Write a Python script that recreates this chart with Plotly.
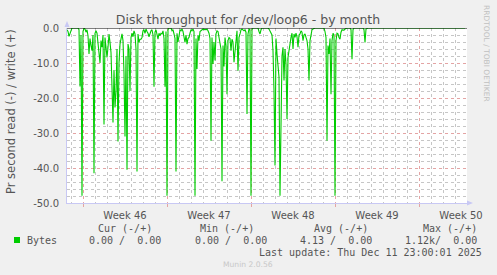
import pandas as pd
import plotly.graph_objects as go

# ---- data (read bytes per second, negative side; 2-hour samples) ----
start_time = "2025-11-08 16:00"
step = "2h"
read_bytes = [
    -0.5, -1.0, -2.4, -1.5, -0.3, 0, 0, 0, 0, 0, 0, 0,
    -0.5, -16.7, -2, -47.9, -1, 0, -0.3, -1.2, -0.5, -2.2, -7.4, -3,
    -5, -6.5, -2, -41.5, -1.5, -0.8, -1.5, -4.6, -6, -10, -3.6, -5.5,
    -2, -27.6, -2.7, -5, -8.4, -5.5, -1.7, -4.1, -7, -17, -27, -12,
    -22.7, -18, -6, -32.4, -10, -4.6, -3, -1.7, -3.6, -13, -31, -8,
    -40.5, -4.6, -6, -18, -2.7, -1.5, -2.5, -0.8, -1.7, -6, -41, -1.7,
    -4.1, -3.2, -3.2, -2.7, -0.8, -0.5, -1.5, -0.3, -1, -1.5, -2.5, -1.2,
    -0.8, -0.5, -2, -16.8, -1.2, -0.5, -1.5, -3.2, -1.5, -2.2, -1.5, -1.7,
    -0.8, -3, -16.8, -1, -47.9, -0.5, 0, 0, 0, -0.8, -0.5, -1.7,
    -3, -41, -1.5, -4, -1.2, -0.5, -0.8, -0.3, -1, -2.5, -4.1, -2,
    -4.6, -3, -2.7, -1.5, -0.5, -0.8, -0.3, -1, -47.9, -3, -11.7, -2,
    -3.6, -1, -0.8, -0.5, -0.3, -0.5, -0.3, -0.5, -0.3, -0.8, -1.5, -3,
    -32.2, -2.7, -10.3, -4, -9.3, -1.7, -0.8, -1, -2.7, -4, -6, -43.8,
    -5, -11, -2.7, -5, -18.9, -3.6, -2.7, -3, -6.5, -3.2, -4, -9.8,
    -6.5, -2, -0.8, -12.2, -2.7, -1.7, -0.5, -0.3, -0.5, -0.8, -0.5, -1.2,
    -24.6, -1.7, -0.3, -0.5, -47.9, -0.5, 0, 0, 0, 0, 0, 0,
    -1, -1.7, -0.5, 0, 0, 0, 0, 0, 0, 0, -0.3, -0.8,
    -1.2, -2, -6.5, -17.9, -39.3, -3, -7.4, -10.3, -14, -47.9, -16, -8,
    -5.5, -15, -6, -10.3, -26, -8.4, -6.5, -3.6, -2.7, -1.5, -6, -1.7,
    -2.7, -1.5, -2.5, -5.5, -2, -1.7, -0.8, -1.2, -3.6, -2, -1.7, -2.7,
    -3.6, -6, -15, -3.6, -1.5, -0.5, -0.3, 0, 0, 0, 0, 0,
    0, 0, 0, 0, 0, 0, -1, -2.7, -32.2, -5, -7.4, -3,
    -18.9, -3.6, -1.5, -2, -47.9, -3.6, -1.5, -1.7, -2.7, -3.2, -1.2, -0.5,
    -0.6, -0.6, -0.3, 0, 0, 0, 0, 0, -0.5, -8.9, -0.5, 0,
    0, 0, 0, 0, 0, 0, 0, 0, 0, -0.5, -4.1, -0.3,
    0, 0, 0, 0, 0, 0, 0, 0, 0, 0, 0, 0,
    0, 0, 0, 0, 0, 0, 0, 0, 0, 0, 0, 0,
    0, 0, 0, 0, 0, 0, 0, 0, 0, 0, 0, 0,
    0, 0, 0, 0, 0, 0, 0, 0, 0, 0, 0, 0,
    0, 0, 0, 0, 0, 0, 0, 0, 0, 0, 0, 0,
    0, 0, 0, 0, 0, 0, 0, 0, 0, 0, 0, 0,
    0, 0, 0, 0, 0, 0, 0, 0, 0, 0, 0, 0,
    0, 0, 0, 0, 0, 0, 0, 0, 0, 0, 0, 0,
    0, 0, 0,
]
y_ticks = [-50, -40, -30, -20, -10, 0]
y_tick_labels = ["-50.0", "-40.0", "-30.0", "-20.0", "-10.0", "0.0"]
legend_headers = ["Cur (-/+)", "Min (-/+)", "Avg (-/+)", "Max (-/+)"]
legend_values = ["0.00 /  0.00", "0.00 /  0.00", "4.13 /  0.00", "1.12k/  0.00"]
series_name = "Bytes"
title = "Disk throughput for /dev/loop6 - by month"
y_title = "Pr second read (-) / write (+)"
last_update = "Last update: Thu Dec 11 23:00:01 2025"
footer = "Munin 2.0.56"
side_text = "RRDTOOL / TOBI OETIKER"

times = pd.date_range(start_time, periods=len(read_bytes), freq=step)

# ---- layout geometry (pixels) ----
W, H = 497, 275
L, R, T, B = 67, 467, 28, 203
PW, PH = R - L, B - T


def px(x):
    return (x - L) / PW


def py(y):
    return (B - y) / PH


GREEN = "#00cc00"
TXT = "#555555"
AXIS = "#c8c8f4"
MAJ = "#e4a4a4"
MIN = "#c6c6c6"

fig = go.Figure()
fig.add_trace(go.Scatter(x=times, y=read_bytes, mode="lines",
                         line=dict(color=GREEN, width=1.1), showlegend=False,
                         hoverinfo="skip"))

fig.update_layout(
    width=W, height=H,
    margin=dict(l=L, r=W - R, t=T, b=H - B, pad=0),
    paper_bgcolor="#f0f0f0", plot_bgcolor="#ffffff",
    font=dict(family="DejaVu Sans", size=10, color=TXT),
    showlegend=False,
    title=dict(text=title, x=0.499, xref="container", xanchor="center",
               y=1 - 19.5 / H, yref="container", yanchor="middle",
               font=dict(size=12.5, color=TXT)),
)

fig.update_xaxes(
    type="date", range=["2025-11-08 16:00", "2025-12-12 00:00"],
    tick0="2025-11-10", dtick=7 * 86400000, ticklabelmode="period",
    tickformat="Week %V", tickfont=dict(size=10, color=TXT),
    ticks="outside", ticklen=3, tickcolor=MAJ,
    showgrid=True, gridcolor=MAJ, griddash="dot", gridwidth=1,
    minor=dict(dtick=86400000, tick0="2025-11-10", showgrid=True,
               gridcolor=MIN, griddash="dot", gridwidth=1, ticks=""),
    showline=True, linecolor=AXIS, linewidth=1, zeroline=False,
)
fig.update_yaxes(
    range=[-50, 0], tickvals=y_ticks, ticktext=y_tick_labels,
    tickfont=dict(size=10, color=TXT), ticks="", ticklabelstandoff=5,
    showgrid=True, gridcolor=MAJ, griddash="dot", gridwidth=1,
    minor=dict(dtick=2, tick0=0, showgrid=True, gridcolor=MIN,
               griddash="dot", gridwidth=1),
    showline=True, linecolor=AXIS, linewidth=1, zeroline=False,
)

shapes = [
    # black zero line
    dict(type="line", xref="paper", yref="y", x0=0, x1=1, y0=0, y1=0,
         line=dict(color="#000000", width=1), layer="above"),
    # axis arrows
    dict(type="path", xref="paper", yref="paper",
         path=f"M {px(64.5)} {py(27)} L {px(69.5)} {py(27)} L {px(67)} {py(21)} Z",
         fillcolor=AXIS, line=dict(width=0), layer="above"),
    dict(type="path", xref="paper", yref="paper",
         path=f"M {px(467)} {py(200.5)} L {px(467)} {py(205.5)} L {px(473)} {py(203)} Z",
         fillcolor=AXIS, line=dict(width=0), layer="above"),
    # legend swatch
    dict(type="rect", xref="paper", yref="paper",
         x0=px(14), x1=px(20), y0=py(243), y1=py(237),
         fillcolor=GREEN, line=dict(width=0)),
]
fig.update_layout(shapes=shapes)

MONO = dict(family="DejaVu Sans Mono", size=10, color=TXT)
ann = []


def add_text(text, x, y, xanchor="left", font=MONO, angle=0, yanchor="middle"):
    ann.append(dict(text=text, x=px(x), y=py(y), xref="paper", yref="paper",
                    xanchor=xanchor, yanchor=yanchor, showarrow=False,
                    font=font, textangle=angle, borderpad=0))


header_right = [152, 254, 368, 477]
value_right = [161, 267, 372, 477]
for h, xr in zip(legend_headers, header_right):
    add_text(h, xr + 1, 228, xanchor="right")
for v, xr in zip(legend_values, value_right):
    add_text(v, xr + 1, 240, xanchor="right")
add_text(series_name, 26, 240)
add_text(last_update, 483, 252, xanchor="right")
add_text(footer, 248, 264, xanchor="center",
         font=dict(family="DejaVu Sans", size=7.6, color="#c8c8c8"))
add_text(y_title, 11, 112, xanchor="center",
         font=dict(family="DejaVu Sans", size=11.5, color=TXT), angle=-90)
add_text(side_text, 487, 53, xanchor="center",
         font=dict(family="DejaVu Sans", size=7.5, color="#c0c0c0"), angle=90)
fig.update_layout(annotations=ann)

fig.write_html("out.html")
